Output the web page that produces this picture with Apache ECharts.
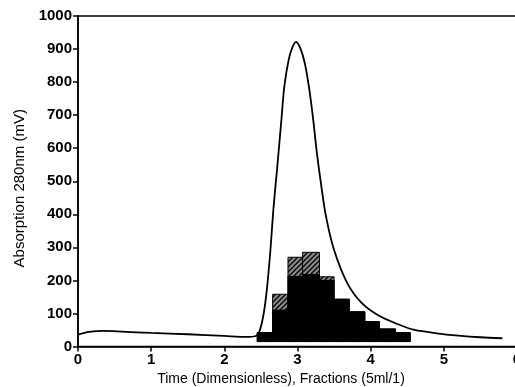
<!DOCTYPE html>
<html>
<head>
<meta charset="utf-8">
<script src="https://cdn.jsdelivr.net/npm/echarts@6/dist/echarts.min.js"></script>
<style>
html,body{margin:0;padding:0;background:#fff;}
#chart{width:515px;height:387px;}
</style>
</head>
<body>
<div id="chart"></div>
<script>
// ---- data ----
// absorption curve (x in dimensionless time, y in mV)
var curveX = [0, 0.15, 0.35, 0.6, 1.0, 1.5, 2.0, 2.3, 2.42, 2.47, 2.53, 2.58, 2.63, 2.67, 2.72, 2.78, 2.82, 2.88, 2.93, 2.98, 3.04, 3.10, 3.16, 3.215, 3.26, 3.32, 3.39, 3.50, 3.68, 3.88, 4.12, 4.40, 4.60, 4.90, 5.20, 5.50, 5.80];
var curveY = [36, 44, 47, 45, 41, 37, 32, 29, 31, 40, 90, 170, 292, 414, 535, 686, 787, 868, 905, 922, 902, 857, 780, 686, 595, 494, 393, 292, 192, 131, 92, 65, 50, 40, 33, 28, 25];
// fraction histogram: bin edges, total height (hatched), dark part height
var fractionEdges = [2.45, 2.66, 2.87, 3.07, 3.30, 3.50, 3.71, 3.92, 4.12, 4.34, 4.54];
var fractionTotal = [42, 158, 270, 285, 211, 143, 105, 75, 53, 42];
var fractionDark = [42, 110, 212, 218, 200, 143, 105, 75, 53, 42];
var fractionBase = 15;
// axis ticks
var xTicks = [0, 1, 2, 3, 4, 5, 6];
var yTicks = [0, 100, 200, 300, 400, 500, 600, 700, 800, 900, 1000];

var curveData = curveX.map(function (x, i) { return [x, curveY[i]]; });
var barData = fractionTotal.map(function (v, i) {
  return [fractionEdges[i], fractionEdges[i + 1], v, fractionDark[i]];
});

// hatch pattern
var pat = document.createElement('canvas');
pat.width = 5; pat.height = 5;
var pc = pat.getContext('2d');
pc.fillStyle = '#8a8a8a';
pc.fillRect(0, 0, 5, 5);
pc.strokeStyle = '#000';
pc.lineWidth = 1.3;
pc.beginPath();
pc.moveTo(0, 5); pc.lineTo(5, 0);
pc.moveTo(-1, 1); pc.lineTo(1, -1);
pc.moveTo(4, 6); pc.lineTo(6, 4);
pc.stroke();

var chart = echarts.init(document.getElementById('chart'), null, {renderer: 'canvas'});
var font = 'Liberation Sans, Arial, Helvetica, sans-serif';
chart.setOption({
  animation: false,
  backgroundColor: '#fff',
  grid: {left: 78, right: -2, top: 16, bottom: 40.5, containLabel: false, outerBoundsMode: 'none',
    show: true, borderColor: '#000', borderWidth: 1.5, backgroundColor: 'transparent'},
  xAxis: {
    type: 'value', min: xTicks[0], max: xTicks[xTicks.length - 1], interval: 1,
    name: 'Time (Dimensionless), Fractions (5ml/1)', nameLocation: 'middle', nameGap: 22,
    nameTextStyle: {fontFamily: font, fontSize: 14, color: '#000', padding: [0, 33, 0, 0]},
    axisLine: {lineStyle: {color: '#000', width: 1.5}},
    axisTick: {show: true, length: 5, lineStyle: {color: '#000', width: 1.5}},
    axisLabel: {margin: 6, fontFamily: font, fontSize: 15, fontWeight: 'bold', color: '#000',
      formatter: function (v) { return String(v); }},
    splitLine: {show: false}
  },
  yAxis: {
    type: 'value', min: yTicks[0], max: yTicks[yTicks.length - 1], interval: 100,
    name: 'Absorption 280nm (mV)', nameLocation: 'middle', nameGap: 44,
    nameTextStyle: {fontFamily: font, fontSize: 15, color: '#000', padding: [0, 14, 0, 0]},
    axisLine: {lineStyle: {color: '#000', width: 1.5}},
    axisTick: {show: true, length: 5, lineStyle: {color: '#000', width: 1.5}},
    axisLabel: {margin: 6, fontFamily: font, fontSize: 15, fontWeight: 'bold', color: '#000',
      formatter: function (v) { return String(v); }},
    splitLine: {show: false}
  },
  series: [
    {
      type: 'custom',
      data: barData,
      z: 3,
      renderItem: function (params, api) {
        var x0 = api.value(0), x1 = api.value(1), top = api.value(2), dark = api.value(3);
        var pBase = api.coord([x0, fractionBase]);
        var pTop = api.coord([x1, top]);
        var pDark = api.coord([x1, dark]);
        return {
          type: 'group',
          children: [
            {type: 'rect', shape: {x: pBase[0], y: pTop[1], width: pTop[0] - pBase[0], height: pBase[1] - pTop[1]},
             style: {fill: {image: pat, repeat: 'repeat'}, stroke: '#000', lineWidth: 1}},
            {type: 'rect', shape: {x: pBase[0], y: pDark[1], width: pDark[0] - pBase[0], height: pBase[1] - pDark[1]},
             style: {fill: '#000', stroke: '#000', lineWidth: 1}}
          ]
        };
      }
    },
    {
      type: 'line',
      data: curveData,
      smooth: 0.3,
      showSymbol: false,
      z: 4,
      lineStyle: {color: '#000', width: 1.8}
    }
  ]
});
</script>
</body>
</html>
